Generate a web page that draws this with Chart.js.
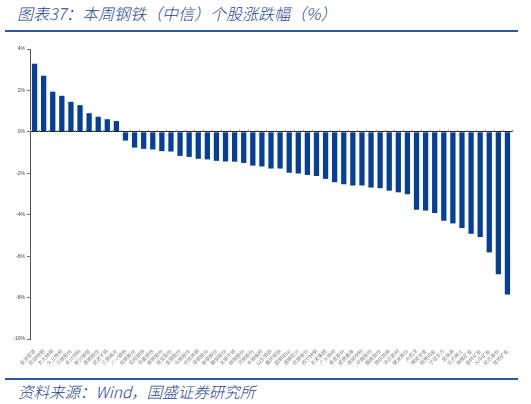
<!DOCTYPE html>
<html>
<head>
<meta charset="utf-8">
<script src="https://cdn.jsdelivr.net/npm/chart.js@4"></script>
<style>
  html, body { margin: 0; padding: 0; background: #fff; }
  body { width: 531px; height: 404px; position: relative; overflow: hidden; font-family: "Noto Sans CJK SC", "Noto Sans", sans-serif; }
  .title { position: absolute; left: 17px; top: 1px; font-size: 16px; font-weight: 300; font-style: italic; color: #1d4596; white-space: nowrap; }
  .rule { position: absolute; left: 5px; width: 513px; height: 2px; background: #2b59a3; }
  .source { position: absolute; left: 18px; top: 380px; font-size: 15.5px; font-weight: 300; font-style: italic; color: #1d4596; white-space: nowrap; }
  #wrap { position: absolute; left: 0; top: 40px; width: 531px; height: 330px; }
</style>
</head>
<body>
<div class="title">图表37：本周钢铁（中信）个股涨跌幅（%）</div>
<div class="rule" style="top:30px"></div>
<div id="wrap"><canvas id="barChart"></canvas></div>
<div class="rule" style="top:378px"></div>
<div class="source">资料来源：Wind，国盛证券研究所</div>
<script>
// 个股名称（图中文字过小，按中信钢铁成分股拟定）
const stocks = [
  '金洲管道', '抚顺特钢', '方大特钢', '久立特材', '沙钢股份', '永兴材料', '新兴铸管', '首钢股份',
  '武进不锈', '三钢闽光', '八一钢铁', '包钢股份', '安阳钢铁', '华菱钢铁', '南钢股份', '常宝股份',
  '宝钢股份', '马钢股份', '中信特钢', '凌钢股份', '新钢股份', '鞍钢股份', '太钢不锈', '柳钢股份',
  '河钢股份', '本钢板材', '山东钢铁', '重庆钢铁', '韶钢松山', '酒钢宏兴', '杭钢股份', '西宁特钢',
  '友发集团', '广大特材', '甬金股份', '盛德鑫泰', '西部材料', '中南股份', '图南股份', '钢研高纳',
  '华达新材', '银龙股份', '大西洋', '博威合金', '翔鹭钨业', '宁波东力', '金海通', '北方稀土',
  '海南矿业', '金岭矿业', '大中矿业', '宏达股份', '宝地矿业'
];
// 周涨跌幅（%）
const changes = [
  3.29, 2.71, 1.94, 1.74, 1.45, 1.29, 0.90, 0.73, 0.61, 0.52,
  -0.42, -0.76, -0.82, -0.85, -0.93, -0.95, -1.16, -1.21, -1.30, -1.33,
  -1.40, -1.43, -1.44, -1.50, -1.63, -1.67, -1.77, -1.77, -1.97, -2.01,
  -2.08, -2.13, -2.27, -2.43, -2.53, -2.59, -2.59, -2.69, -2.72, -2.84,
  -2.92, -3.01, -3.76, -3.80, -3.92, -4.29, -4.42, -4.64, -4.92, -5.08,
  -5.82, -6.88, -7.85
];
const yMin = -10, yMax = 4, yStep = 2;

// 零轴上的小刻度
const zeroTicks = {
  id: 'zeroTicks',
  afterDatasetsDraw(chart) {
    const x = chart.scales.x, y = chart.scales.y;
    const y0 = y.getPixelForValue(0);
    const ctx = chart.ctx;
    const half = (x.getPixelForValue(1) - x.getPixelForValue(0)) / 2;
    ctx.save();
    ctx.strokeStyle = '#888';
    ctx.lineWidth = 1;
    ctx.beginPath();
    for (let i = 0; i <= stocks.length; i++) {
      const px = Math.round(x.getPixelForValue(i) - half) + 0.5;
      ctx.moveTo(px, y0 - 2);
      ctx.lineTo(px, y0);
    }
    ctx.stroke();
    ctx.restore();
  }
};

const ctx = document.getElementById('barChart').getContext('2d');
new Chart(ctx, {
  type: 'bar',
  data: {
    labels: stocks,
    datasets: [{
      label: '涨跌幅',
      data: changes,
      backgroundColor: '#053f97',
      categoryPercentage: 1,
      barPercentage: 0.58
    }]
  },
  options: {
    responsive: true,
    maintainAspectRatio: false,
    animation: false,
    layout: { padding: { left: 0, right: 19, top: 9, bottom: 0 } },
    plugins: {
      legend: { display: false },
      tooltip: { enabled: false }
    },
    scales: {
      x: {
        grid: { display: false },
        border: { display: false },
        ticks: {
          autoSkip: false,
          minRotation: 45,
          maxRotation: 45,
          padding: 1,
          color: '#888',
          font: { size: 5, family: 'Noto Sans CJK SC' }
        },
        afterFit(scale) { scale.height = 31; }
      },
      y: {
        min: yMin,
        max: yMax,
        border: { color: '#555', width: 1 },
        grid: {
          color: c => (c.tick && c.tick.value === 0) ? '#222' : 'rgba(0,0,0,0)',
          tickColor: '#777',
          tickLength: 3,
          lineWidth: 1
        },
        ticks: {
          stepSize: yStep,
          padding: 2,
          color: '#444',
          font: { size: 5, family: 'Liberation Sans' },
          callback: v => v + '%'
        },
        afterFit(scale) { scale.width = 30; }
      }
    }
  },
  plugins: [zeroTicks]
});
</script>
</body>
</html>
